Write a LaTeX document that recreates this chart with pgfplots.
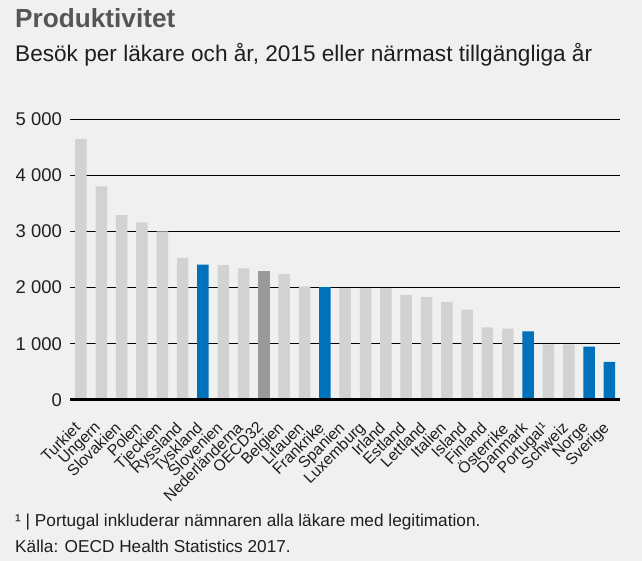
\documentclass[border=0pt]{standalone}
\usepackage{pgfplots}
\pgfplotsset{compat=1.18}
\usepackage{fontspec}
\setmainfont{Liberation Sans}
\definecolor{bg}{HTML}{F0F0F0}
\definecolor{lgray}{HTML}{D2D2D2}
\definecolor{dgray}{HTML}{9A9A9A}
\definecolor{sblue}{HTML}{0072BB}
\definecolor{titlegray}{HTML}{555555}
\definecolor{txt}{HTML}{1E1E1E}
\begin{document}
\begin{tikzpicture}[x=1bp,y=1bp]
\fill[bg] (0,0) rectangle (642,561);
\useasboundingbox (0,0) rectangle (642,561);
\node[anchor=base west, inner sep=0pt, font=\fontsize{26.3}{28}\selectfont\bfseries, text=titlegray] at (15,533) {Produktivitet};
\node[anchor=base west, inner sep=0pt, font=\fontsize{22.7}{26}\selectfont, text=txt] at (15,499) {Besök per läkare och år, 2015 eller närmast tillgängliga år};
\node[anchor=base west, inner sep=0pt, font=\fontsize{17.3}{20}\selectfont, text=txt] at (15,34) {¹ | Portugal inkluderar nämnaren alla läkare med legitimation.};
\node[anchor=base west, inner sep=0pt, font=\fontsize{17.3}{20}\selectfont, text=txt] at (15,8) {Källa: OECD Health Statistics 2017.};
\begin{axis}[
  at={(70bp,161bp)}, anchor=south west,
  scale only axis, width=550bp, height=281bp,
  xmin=-0.54, xmax=26.52, ymin=0, ymax=5000,
  axis line style={draw=none},
  ytick={0,1000,2000,3000,4000,5000},
  yticklabels={0,{1 000},{2 000},{3 000},{4 000},{5 000}},
  yticklabel style={font=\fontsize{18.5}{20}\selectfont, text=txt, anchor=east, inner sep=0pt, xshift=-8bp},
  ymajorgrids, major grid style={black, line width=0.8bp},
  major tick length=0pt,
  xtick={0,...,26},
  xticklabels={Turkiet,Ungern,Slovakien,Polen,Tjeckien,Ryssland,Tyskland,Slovenien,Nederländerna,OECD32,Belgien,Litauen,Frankrike,Spanien,Luxemburg,Irland,Estland,Lettland,Italien,Island,Finland,Österrike,Danmark,Portugal¹,Schweiz,Norge,Sverige},
  xticklabel style={rotate=45, anchor=north east, font=\fontsize{15.8}{18}\selectfont, text=txt, inner sep=0pt, xshift=-20bp, yshift=-9bp},
  every axis plot/.append style={ybar, bar width=11.5bp, bar shift=0pt, draw=none},
]
\addplot[fill=lgray] coordinates {(0,4640) (1,3800) (2,3290) (3,3160) (4,3000) (5,2530) (7,2400) (8,2340) (10,2240) (11,2020) (13,1990) (14,1990) (15,1990) (16,1870) (17,1830) (18,1740) (19,1610) (20,1290) (21,1270) (23,990) (24,990)};
\addplot[fill=sblue] coordinates {(6,2410) (12,2010) (22,1220) (25,950) (26,680)};
\addplot[fill=dgray] coordinates {(9,2290)};
\draw[black, line width=3bp] (axis cs:-0.54,0) -- (axis cs:26.52,0);
\end{axis}
\end{tikzpicture}
\end{document}
